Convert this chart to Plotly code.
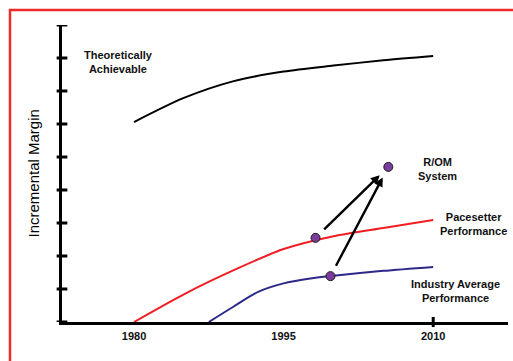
import plotly.graph_objects as go

# Curves: year -> incremental margin
years_theory = [1980, 1985, 1990, 1995, 2000, 2005, 2010]
theory = [6.06, 6.79, 7.30, 7.59, 7.77, 7.93, 8.06]

years_pace = [1980, 1985, 1990, 1995, 2000, 2005, 2010]
pacesetter = [0.0, 0.84, 1.57, 2.21, 2.60, 2.85, 3.09]

years_ind = [1987.5, 1990, 1992.5, 1995, 1997.5, 2000, 2005, 2010]
industry = [0.0, 0.47, 0.92, 1.17, 1.31, 1.40, 1.55, 1.67]

# Highlighted points: on pacesetter, on industry, and the R/OM target
dot_years = [1998.2, 1999.7, 2005.5]
dot_values = [2.55, 1.39, 4.70]

x_ticks = [1980, 1995, 2010]
x_tick_labels = ["1980", "1995", "2010"]
y_ticks = list(range(0, 10))

FONT = "Liberation Sans, Arial, sans-serif"

fig = go.Figure()
fig.add_trace(go.Scatter(x=years_theory, y=theory, mode="lines",
                         line=dict(color="black", width=2, shape="spline",
                                   smoothing=0.8)))
fig.add_trace(go.Scatter(x=years_pace, y=pacesetter, mode="lines",
                         line=dict(color="#F01E23", width=2, shape="spline",
                                   smoothing=0.8)))
fig.add_trace(go.Scatter(x=years_ind, y=industry, mode="lines",
                         line=dict(color="#2B2A88", width=2, shape="spline",
                                   smoothing=0.8)))
fig.add_trace(go.Scatter(x=dot_years, y=dot_values, mode="markers",
                         marker=dict(size=9, color="#7A3D9C",
                                     line=dict(color="#1a1a1a", width=1))))

# Arrows from the two performance points toward the R/OM system point
for i in (0, 1):
    fig.add_annotation(x=dot_years[2], y=dot_values[2],
                       ax=dot_years[i], ay=dot_values[i],
                       xref="x", yref="y", axref="x", ayref="y",
                       text="", showarrow=True, arrowhead=2, arrowsize=0.75,
                       arrowwidth=2.4, arrowcolor="black",
                       standoff=12, startstandoff=10)

label_font = dict(family=FONT, size=11, color="#111111", weight="bold")
labels = [
    ("Theoretically<br>Achievable", 1978.4, 7.89),
    ("R/OM<br>System", 2010.4, 4.65),
    ("Pacesetter<br>Performance", 2014.0, 2.97),
    ("Industry Average<br>Performance", 2012.2, 0.95),
]
for text, lx, ly in labels:
    fig.add_annotation(x=lx, y=ly, xref="x", yref="y", text=text,
                       showarrow=False, font=label_font, align="center",
                       xanchor="center", yanchor="middle")

fig.add_annotation(x=-0.065, y=0.5, xref="paper", yref="paper",
                   xanchor="center", yanchor="middle",
                   text="Incremental Margin", textangle=-90, showarrow=False,
                   font=dict(family=FONT, size=15, color="black"))

shapes = []
# y-axis tick marks crossing the axis line
for v in y_ticks:
    shapes.append(dict(type="line", xref="paper", yref="y",
                       x0=-0.012, x1=0.012, y0=v, y1=v,
                       line=dict(color="black", width=3)))
# single crossing tick on the x axis at the last year label
shapes.append(dict(type="line", xref="x", yref="paper",
                   x0=x_ticks[-1], x1=x_ticks[-1], y0=-0.017, y1=0.017,
                   line=dict(color="black", width=3)))
# red frame
shapes.append(dict(type="rect", xref="paper", yref="paper",
                   x0=-0.1166, x1=1.05, y0=-0.3, y1=1.0505,
                   line=dict(color="#EE2A2A", width=2.5),
                   fillcolor="rgba(0,0,0,0)", layer="below"))

fig.update_layout(
    width=513, height=361,
    margin=dict(l=62, r=5, t=25, b=39),
    paper_bgcolor="white", plot_bgcolor="white",
    showlegend=False,
    shapes=shapes,
    xaxis=dict(range=[1972.78, 2017.5], tickvals=x_ticks,
               ticktext=x_tick_labels, ticks="", showgrid=False,
               zeroline=False, showline=True, linecolor="black",
               linewidth=3, ticklabelstandoff=2,
               tickfont=dict(family=FONT, size=11, color="#111111",
                             weight="bold")),
    yaxis=dict(range=[0, 9], showticklabels=False, ticks="",
               showgrid=False, zeroline=False, showline=True,
               linecolor="black", linewidth=3),
)

fig.write_html("out.html")
